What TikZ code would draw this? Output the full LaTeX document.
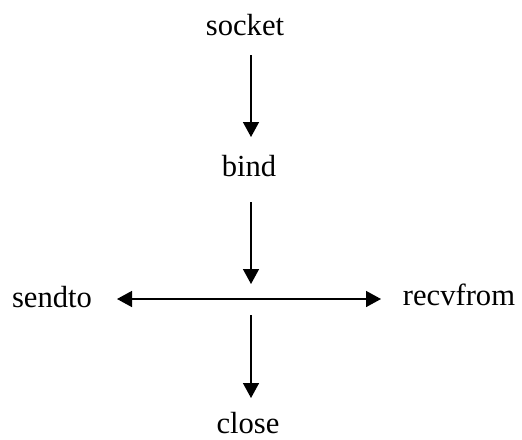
\documentclass[tikz,border=0pt]{standalone}
\usepackage{fontspec}
\setmainfont{Liberation Serif}
\usetikzlibrary{arrows.meta}
\begin{document}
\begin{tikzpicture}[x=0.5pt,y=-0.5pt,
  call/.style={inner sep=0pt, anchor=base, font=\fontsize{15.3}{18}\selectfont},
  tip/.tip={Triangle[width=8pt,length=7.5pt]},
  flow/.style={line width=0.75pt, -tip},
  both/.style={line width=0.75pt, tip-tip}]
\useasboundingbox (0,0) rectangle (522,439);

% socket calls
\node[call] (socket)   at (245,35)  {socket};
\node[call] (bind)     at (249,176) {bind};
\node[call] (sendto)   at (52,307)  {sendto};
\node[call] (recvfrom) at (459,305) {recvfrom};
\node[call] (close)    at (248,433) {close};

% arrow end points on the central axis
\coordinate (s0) at (251,55);
\coordinate (s1) at (251,137);
\coordinate (b0) at (251,202);
\coordinate (b1) at (251,284);
\coordinate (l)  at (117,299);
\coordinate (r)  at (381,299);
\coordinate (c0) at (251,315);
\coordinate (c1) at (251,398);

\draw[flow] (s0) -- (s1);
\draw[flow] (b0) -- (b1);
\draw[both] (l) -- (r);
\draw[flow] (c0) -- (c1);
\end{tikzpicture}
\end{document}
